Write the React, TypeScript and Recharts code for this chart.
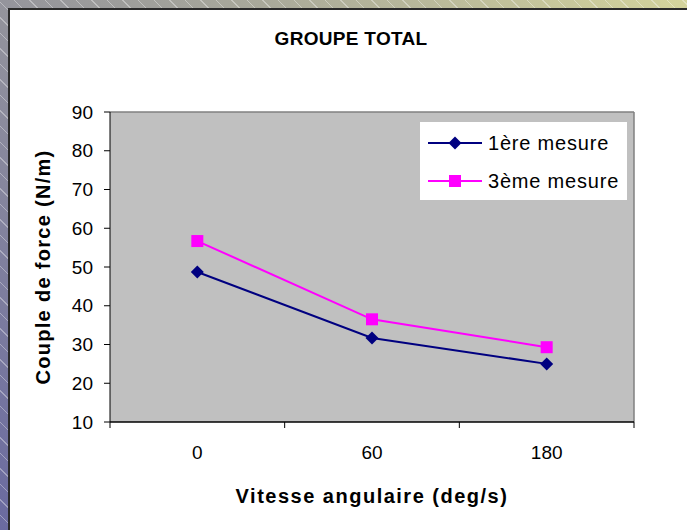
import { LineChart, Line, XAxis, YAxis, CartesianGrid, Legend, ReferenceLine } from 'recharts'

const categories = ['0', '60', '180']
const mesure1 = [48.7, 31.7, 25.0]
const mesure3 = [56.7, 36.5, 29.3]
const yTicks = [10, 20, 30, 40, 50, 60, 70, 80, 90]
const seriesNames = ['1ère mesure', '3ème mesure']

const NAVY = '#000080'
const MAGENTA = '#FF00FF'
const FONT = '"Liberation Sans", Arial, sans-serif'

// x positions sit in the middle of each category band
const data = categories.map((c, i) => ({
  pos: i + 0.5,
  cat: c,
  m1: mesure1[i],
  m3: mesure3[i],
}))

const xTicks = [0, 0.5, 1, 1.5, 2, 2.5, 3]

function Diamond({ cx, cy, s = 6.5 }: { cx: number; cy: number; s?: number }) {
  return <polygon points={`${cx},${cy - s} ${cx + s},${cy} ${cx},${cy + s} ${cx - s},${cy}`} fill={NAVY} />
}

function Square({ cx, cy, s = 6 }: { cx: number; cy: number; s?: number }) {
  return <rect x={cx - s} y={cy - s} width={s * 2} height={s * 2} fill={MAGENTA} />
}

function XTick(props: any) {
  const { x, y, payload } = props
  const v = payload.value
  if (Number.isInteger(v)) {
    return <line x1={x} x2={x} y1={y} y2={y + 6} stroke="#000" />
  }
  return (
    <text x={x} y={y + 37} textAnchor="middle" fill="#000" fontSize={19} fontFamily={FONT}>
      {categories[Math.floor(v)]}
    </text>
  )
}

function LegendBox() {
  const rows = [
    { name: seriesNames[0], color: NAVY, marker: 'diamond' },
    { name: seriesNames[1], color: MAGENTA, marker: 'square' },
  ]
  return (
    <div style={{ background: '#fff', width: 207, height: 78, position: 'relative' }}>
      {rows.map((r, i) => (
        <div key={r.name} style={{ position: 'absolute', left: 8, top: 8 + i * 38, height: 26, display: 'flex', alignItems: 'center' }}>
          <svg width={56} height={26}>
            <line x1={0} x2={54} y1={13} y2={13} stroke={r.color} strokeWidth={2} />
            {r.marker === 'diamond' ? <Diamond cx={27} cy={13} /> : <Square cx={27} cy={13} />}
          </svg>
          <span style={{ fontFamily: FONT, fontSize: 20, letterSpacing: 0.8, color: '#000', marginLeft: 4 }}>{r.name}</span>
        </div>
      ))}
    </div>
  )
}

export default function App() {
  return (
    <div
      style={{
        position: 'absolute',
        left: 0,
        top: 0,
        width: 687,
        height: 530,
        overflow: 'hidden',
        background:
          'repeating-linear-gradient(45deg, rgba(255,255,255,0) 0px, rgba(255,255,255,0) 10px, rgba(255,255,255,0.35) 10px, rgba(255,255,255,0.35) 11px), linear-gradient(225deg, #d4d49c 0%, #a9a99a 35%, #6a6aa0 100%)',
      }}
    >
      <div
        style={{
          position: 'absolute',
          left: 8,
          top: 8,
          width: 700,
          height: 540,
          background: '#fff',
          borderLeft: '2px solid #2a2a2a',
          borderTop: '2px solid #2a2a2a',
        }}
      />
      <div style={{ position: 'absolute', left: 0, top: 0 }}>
        <LineChart width={687} height={530} data={data} margin={{ top: 112, right: 53, bottom: 0, left: 0 }}>
          <CartesianGrid horizontal={false} vertical={false} fill="#C0C0C0" fillOpacity={1} />
          <XAxis
            dataKey="pos"
            type="number"
            domain={[0, 3]}
            ticks={xTicks}
            interval={0}
            tickLine={false}
            tickSize={0}
            tickMargin={0}
            tick={<XTick />}
            height={108}
            axisLine={{ stroke: '#000', strokeWidth: 1.5 }}
          />
          <YAxis
            type="number"
            domain={[10, 90]}
            ticks={yTicks}
            interval={0}
            width={110}
            tickSize={6}
            tickMargin={11}
            tickLine={{ stroke: '#000' }}
            axisLine={{ stroke: '#000' }}
            tick={{ fill: '#000', fontSize: 19, fontFamily: FONT }}
          />
          <ReferenceLine y={90} stroke="#808080" strokeWidth={1.5} />
          <ReferenceLine x={3} stroke="#808080" strokeWidth={1.5} />
          <Legend
            layout="horizontal"
            verticalAlign="middle"
            align="center"
            content={<LegendBox />}
            wrapperStyle={{ left: 420, top: 122, width: 207, height: 78 }}
          />
          <Line
            dataKey="m1"
            name={seriesNames[0]}
            stroke={NAVY}
            strokeWidth={2}
            isAnimationActive={false}
            dot={(p: any) => <Diamond key={`d${p.index}`} cx={p.cx} cy={p.cy} />}
            activeDot={false}
          />
          <Line
            dataKey="m3"
            name={seriesNames[1]}
            stroke={MAGENTA}
            strokeWidth={2}
            isAnimationActive={false}
            dot={(p: any) => <Square key={`s${p.index}`} cx={p.cx} cy={p.cy} />}
            activeDot={false}
          />
        </LineChart>
      </div>
      <div
        style={{
          position: 'absolute',
          left: 351,
          top: 39,
          transform: 'translate(-50%, -50%)',
          fontFamily: FONT,
          fontWeight: 'bold',
          fontSize: 19,
          letterSpacing: 0.3,
          whiteSpace: 'nowrap',
        }}
      >
        GROUPE TOTAL
      </div>
      <div
        style={{
          position: 'absolute',
          left: 43,
          top: 267,
          transform: 'translate(-50%, -50%) rotate(-90deg)',
          fontFamily: FONT,
          fontWeight: 'bold',
          fontSize: 20,
          letterSpacing: 1.3,
          whiteSpace: 'nowrap',
        }}
      >
        Couple de force (N/m)
      </div>
      <div
        style={{
          position: 'absolute',
          left: 372,
          top: 496,
          transform: 'translate(-50%, -50%)',
          fontFamily: FONT,
          fontWeight: 'bold',
          fontSize: 20,
          letterSpacing: 1.5,
          whiteSpace: 'nowrap',
        }}
      >
        Vitesse angulaire (deg/s)
      </div>
    </div>
  )
}
